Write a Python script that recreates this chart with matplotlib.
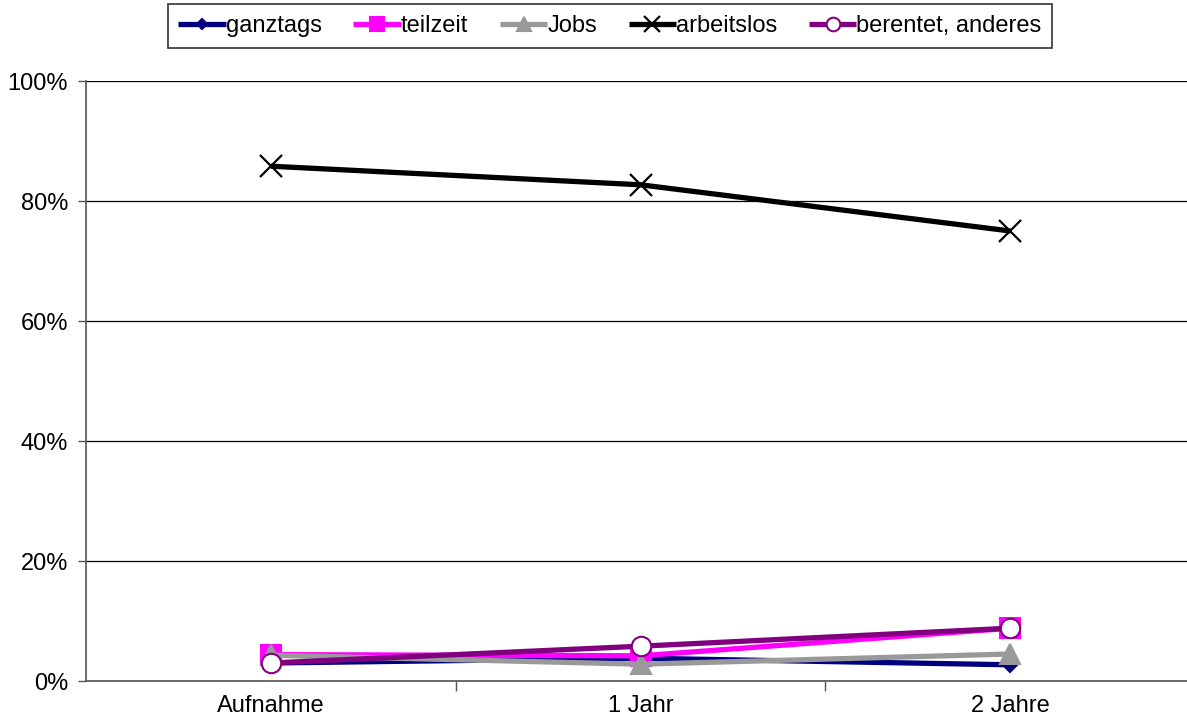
import matplotlib
matplotlib.use("Agg")
import matplotlib.pyplot as plt
from matplotlib.ticker import FixedLocator, PercentFormatter

plt.rcParams['font.family'] = ['Liberation Sans', 'DejaVu Sans']

categories = ['Aufnahme', '1 Jahr', '2 Jahre']
ganztags = [3.0, 3.8, 2.7]
teilzeit = [4.4, 4.2, 8.8]
jobs = [4.3, 2.8, 4.5]
arbeitslos = [85.8, 82.7, 75.0]
berentet = [3.0, 5.8, 8.8]

series = [
    ('ganztags', ganztags, '#000080', 'D', 7, '#000080'),
    ('teilzeit', teilzeit, '#ff00ff', 's', 14, '#ff00ff'),
    ('Jobs', jobs, '#999999', '^', 14, '#999999'),
    ('arbeitslos', arbeitslos, '#000000', 'x', 16, None),
    ('berentet, anderes', berentet, '#800080', 'o', 14, 'white'),
]

fig = plt.figure(figsize=(11.87, 7.19), dpi=100)
ax = fig.add_axes([86 / 1187, 38 / 719, 1 - 86 / 1187, 600 / 719])

x = list(range(len(categories)))
handles = []
for name, vals, col, mk, ms, face in series:
    kw = dict(color=col, lw=3.8, marker=mk, markersize=ms, label=name,
              markeredgecolor=col, solid_capstyle='butt')
    if mk == 'x':
        kw['markeredgewidth'] = 1.6
    else:
        kw['markerfacecolor'] = face
        kw['markeredgewidth'] = 1.5
    h, = ax.plot(x, vals, **kw)
    handles.append(h)

ax.set_xlim(-0.5, 2.478)
ax.set_ylim(0, 100)
ax.set_yticks(range(0, 101, 20))
ax.yaxis.set_major_formatter(PercentFormatter(decimals=0))
ax.grid(axis='y', color='black', lw=0.9)
ax.set_axisbelow(True)

ax.set_xticks(x)
ax.set_xticklabels(categories)
ax.xaxis.set_minor_locator(FixedLocator([0.5, 1.5]))
ax.tick_params(axis='x', which='major', length=0, pad=10, labelsize=17)
ax.tick_params(axis='x', which='minor', length=7, width=1, color='#555555')
ax.tick_params(axis='y', length=6, width=1, color='#555555', labelsize=17, pad=7)

for side in ('top', 'right'):
    ax.spines[side].set_visible(False)
for side in ('left', 'bottom'):
    ax.spines[side].set_color('#555555')
    ax.spines[side].set_linewidth(1.2)

leg = fig.legend(handles=handles, loc='center', bbox_to_anchor=(610 / 1187, 1 - 26 / 719),
                 ncol=5, fontsize=17, frameon=True, fancybox=False, handlelength=2.0,
                 handletextpad=0.0, columnspacing=1.35, borderpad=0.45, borderaxespad=0,
                 markerscale=0.7)
leg.get_frame().set_edgecolor('black')
leg.get_frame().set_linewidth(1.2)

fig.savefig('out.png', dpi=100)
